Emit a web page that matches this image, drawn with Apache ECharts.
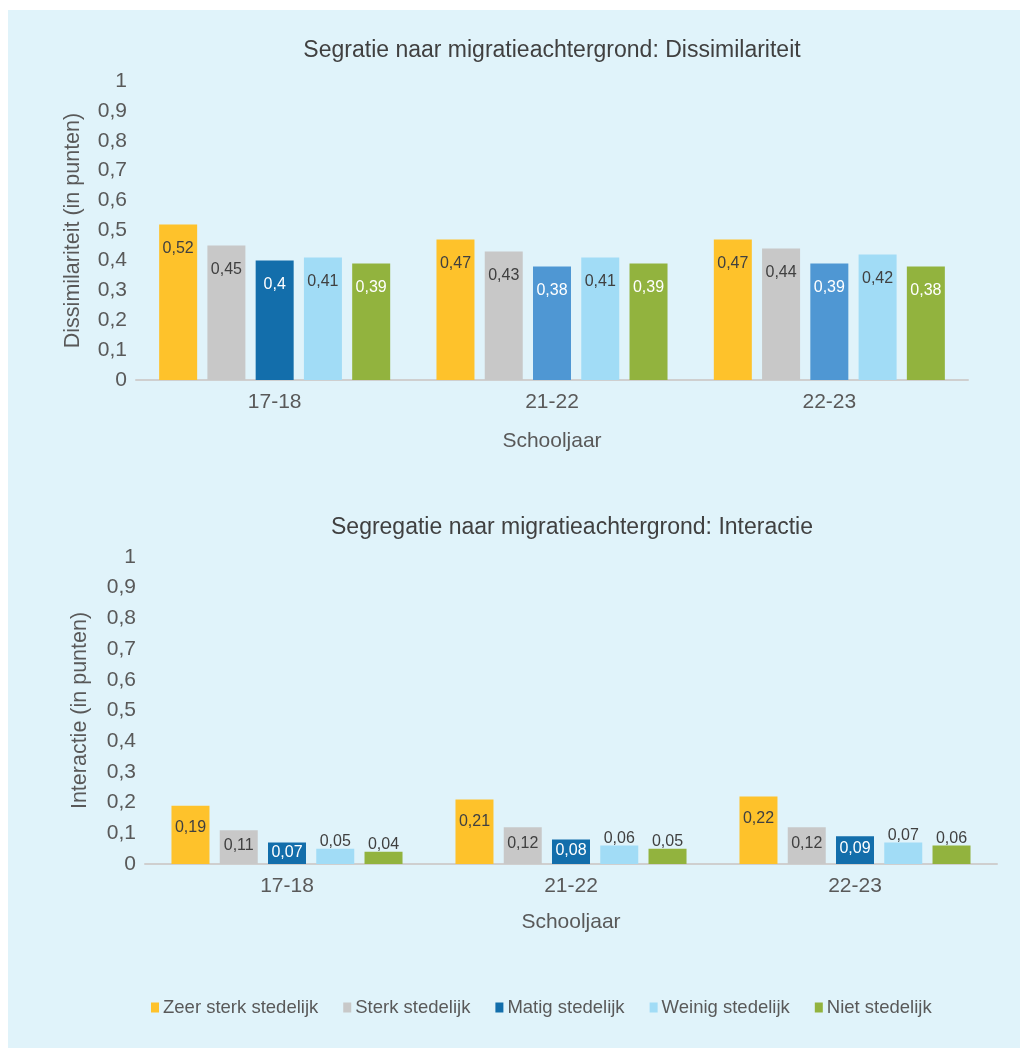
<!DOCTYPE html>
<html>
<head>
<meta charset="utf-8">
<script src="https://cdn.jsdelivr.net/npm/echarts@6/dist/echarts.min.js"></script>
<style>
  html, body { margin: 0; padding: 0; background: #ffffff; overflow: hidden; }
  #bg { position: absolute; left: 8px; top: 10px; right: 0; bottom: 0; background: #E0F3FA; }
  #main { position: absolute; left: 0; top: 0; width: 1020px; height: 1048px; }
</style>
</head>
<body>
<div id="bg"></div>
<div id="main"></div>
<script>
var categories = ['17-18', '21-22', '22-23'];
var seriesNames = ['Zeer sterk stedelijk', 'Sterk stedelijk', 'Matig stedelijk', 'Weinig stedelijk', 'Niet stedelijk'];

// Dissimilariteit
var disZeerSterk = [0.52, 0.47, 0.47];
var disSterk = [0.45, 0.43, 0.44];
var disMatig = [0.40, 0.38, 0.39];
var disWeinig = [0.41, 0.41, 0.42];
var disNiet = [0.39, 0.39, 0.38];

// Interactie
var intZeerSterk = [0.19, 0.21, 0.22];
var intSterk = [0.11, 0.12, 0.12];
var intMatig = [0.07, 0.08, 0.09];
var intWeinig = [0.05, 0.06, 0.07];
var intNiet = [0.04, 0.05, 0.06];

var myColor = ['#FEC22B', '#C8C8C8', '#136EAB', '#A1DCF6', '#92B33E'];
var matigLight = '#4F97D3';
var textColor = '#595959';
var labelDark = '#404040';
var font = 'Liberation Sans, Arial, sans-serif';

function comma(v) {
    return String(Math.round(v * 100) / 100).replace('.', ',');
}

// label just below the top of the bar, pulled down less for short bars
function barData(values, pxPerUnit, cap, inside) {
    return values.map(function (v) {
        if (!inside) return v;
        var off = Math.min(cap, v * pxPerUnit * 0.45);
        return { value: v, label: { distance: off - 8 } };
    });
}

function makeSeries(values, idx, gridIdx, pxPerUnit, cap, inside, white) {
    return {
        name: seriesNames[idx],
        type: 'bar',
        xAxisIndex: gridIdx,
        yAxisIndex: gridIdx,
        data: barData(values, pxPerUnit, cap, inside),
        barWidth: 38,
        barGap: '27%',
        itemStyle: { color: myColor[idx] },
        label: {
            show: true,
            position: inside ? 'insideTop' : 'top',
            distance: inside ? 16 : -1,
            color: white ? '#ffffff' : labelDark,
            fontSize: 16,
            lineHeight: 16,
            fontFamily: font,
            formatter: function (p) { return comma(p.value); }
        }
    };
}

function yAxis(gridIdx, name, gap) {
    return {
        type: 'value',
        gridIndex: gridIdx,
        min: 0,
        max: 1,
        interval: 0.1,
        name: name,
        nameLocation: 'middle',
        nameGap: gap,
        nameTextStyle: { color: textColor, fontSize: 21.5, fontFamily: font },
        axisLine: { show: false },
        axisTick: { show: false },
        splitLine: { show: false },
        axisLabel: {
            color: textColor,
            fontSize: 21,
            fontFamily: font,
            margin: 9,
            formatter: function (v) { return comma(v); }
        }
    };
}

function xAxis(gridIdx, gap) {
    return {
        type: 'category',
        gridIndex: gridIdx,
        data: categories,
        name: 'Schooljaar',
        nameLocation: 'middle',
        nameGap: gap,
        nameTextStyle: { color: textColor, fontSize: 21, fontFamily: font },
        axisLine: { lineStyle: { color: '#CFCFCF', width: 2 } },
        axisTick: { show: false },
        axisLabel: { color: textColor, fontSize: 21, fontFamily: font, margin: 12 }
    };
}

var topMatig = makeSeries(disMatig, 2, 0, 299, 24, true, true);
topMatig.data = topMatig.data.map(function (d, i) {
    if (i > 0) d.itemStyle = { color: matigLight };
    return d;
});

var chart = echarts.init(document.getElementById('main'), null, { renderer: 'canvas' });
var option = {
    backgroundColor: 'transparent',
    animation: false,
    textStyle: { fontFamily: font },
    title: [{
        text: 'Segratie naar migratieachtergrond: Dissimilariteit',
        left: 552,
        top: 39,
        textAlign: 'center',
        padding: 0,
        textStyle: { color: labelDark, fontSize: 23, fontWeight: 'normal', fontFamily: font }
    }, {
        text: 'Segregatie naar migratieachtergrond: Interactie',
        left: 572,
        top: 516,
        textAlign: 'center',
        padding: 0,
        textStyle: { color: labelDark, fontSize: 23, fontWeight: 'normal', fontFamily: font }
    }],
    legend: {
        data: seriesNames,
        left: 151,
        top: 998,
        icon: 'rect',
        itemWidth: 8,
        itemHeight: 10,
        itemGap: 25,
        padding: 0,
        textStyle: { color: textColor, fontSize: 18.5, fontFamily: font, padding: [0, 0, 0, -1] }
    },
    grid: [
        { left: 136, right: 52, top: 81, height: 299 },
        { left: 145, right: 23, top: 557, height: 307 }
    ],
    xAxis: [xAxis(0, 51), xAxis(1, 48)],
    yAxis: [yAxis(0, 'Dissimilariteit (in punten)', 52), yAxis(1, 'Interactie (in punten)', 54)],
    series: [
        makeSeries(disZeerSterk, 0, 0, 299, 24, true, false),
        makeSeries(disSterk, 1, 0, 299, 24, true, false),
        topMatig,
        makeSeries(disWeinig, 3, 0, 299, 24, true, false),
        makeSeries(disNiet, 4, 0, 299, 24, true, true),
        makeSeries(intZeerSterk, 0, 1, 307, 22, true, false),
        makeSeries(intSterk, 1, 1, 307, 22, true, false),
        makeSeries(intMatig, 2, 1, 307, 22, true, true),
        makeSeries(intWeinig, 3, 1, 307, 22, false, false),
        makeSeries(intNiet, 4, 1, 307, 22, false, false)
    ]
};
chart.setOption(option);
</script>
</body>
</html>
